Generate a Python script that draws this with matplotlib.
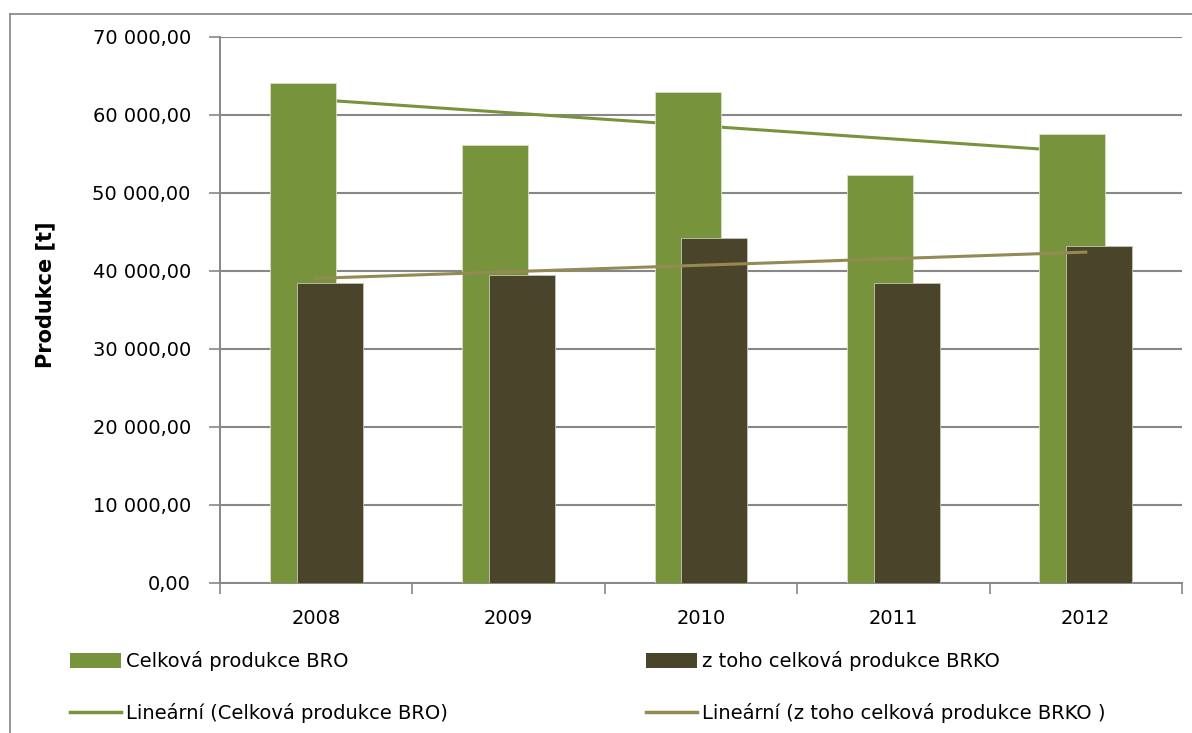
import numpy as np
import matplotlib
matplotlib.use("Agg")
import matplotlib.pyplot as plt
from matplotlib.lines import Line2D
from matplotlib.patches import Patch
from matplotlib.ticker import FuncFormatter

# data
years = ["2008", "2009", "2010", "2011", "2012"]
bro = [64100, 56150, 62900, 52300, 57600]
brko = [38450, 39450, 44200, 38450, 43150]

GREEN = "#77933C"
DARK = "#4A452A"
TREND2 = "#948A54"
GRID = "#878787"
FS = 14

plt.rcParams["font.family"] = ["DejaVu Sans"]

W, H = 1192, 733
fig = plt.figure(figsize=(W / 100, H / 100), dpi=100)
ax = fig.add_axes([220 / W, 1 - 583 / H, (1182 - 220) / W, (583 - 37) / H])

x = np.arange(len(years))
bw = 0.343
off = 0.07

# linear trend lines (Excel style)
c1 = np.polyfit(x, bro, 1)
c2 = np.polyfit(x, brko, 1)

ax.plot(x, np.polyval(c1, x), color=GREEN, lw=2.2, zorder=2)
ax.bar(x - off, bro, width=bw, color=GREEN, edgecolor="#d8dfc8", lw=0.6, zorder=3)
ax.bar(x + off, brko, width=bw, color=DARK, edgecolor="#c9c6b5", lw=0.6, zorder=4)
ax.plot(x, np.polyval(c2, x), color=TREND2, lw=2.2, zorder=5)

ax.set_xlim(-0.5, len(years) - 0.5)
ax.set_ylim(0, 70000)
ax.set_yticks(np.arange(0, 70001, 10000))
ax.yaxis.set_major_formatter(FuncFormatter(
    lambda v, p: f"{v:,.2f}".replace(",", " ").replace(".", ",")))
ax.grid(axis="y", color=GRID, lw=1.5, zorder=0)
ax.set_axisbelow(True)

ax.set_xticks(x)
ax.set_xticklabels(years)
ax.set_xticks(np.arange(-0.5, len(years)), minor=True)
ax.tick_params(axis="x", which="major", length=0, pad=19, labelsize=FS)
ax.tick_params(axis="x", which="minor", length=8, width=1.2, color=GRID)
ax.tick_params(axis="y", length=8, width=1.2, color=GRID, pad=13, labelsize=FS)

for s in ["top", "right"]:
    ax.spines[s].set_visible(False)
for s in ["left", "bottom"]:
    ax.spines[s].set_color(GRID)
    ax.spines[s].set_linewidth(1.4)

fig.text(45 / W, 1 - 295 / H, "Produkce [t]", rotation=90, ha="center",
         va="center", fontsize=FS + 1, fontweight="bold")

# legend, two columns placed separately
h1 = [Patch(facecolor=GREEN), Line2D([], [], color=GREEN, lw=2.5)]
h2 = [Patch(facecolor=DARK), Line2D([], [], color=TREND2, lw=2.5)]
l1 = ["Celková produkce BRO", "Lineární (Celková produkce BRO)"]
l2 = ["z toho celková produkce BRKO", "Lineární (z toho celková produkce BRKO )"]
for hs, ls, xl in [(h1, l1, 70), (h2, l2, 646)]:
    fig.legend(hs, ls, loc="upper left", bbox_to_anchor=(xl / W, 1 - 651 / H),
               frameon=False, fontsize=FS, handlelength=2.6, handleheight=0.8,
               handletextpad=0.3, labelspacing=1.65, borderpad=0, borderaxespad=0)

# chart frame (only top and left visible in the crop)
fig.add_artist(Line2D([10 / W, 10 / W], [0, 1 - 14 / H], color="#8c8c8c", lw=1.3))
fig.add_artist(Line2D([10 / W, 1], [1 - 14 / H, 1 - 14 / H], color="#8c8c8c", lw=1.3))

fig.savefig("out.png", dpi=100)
